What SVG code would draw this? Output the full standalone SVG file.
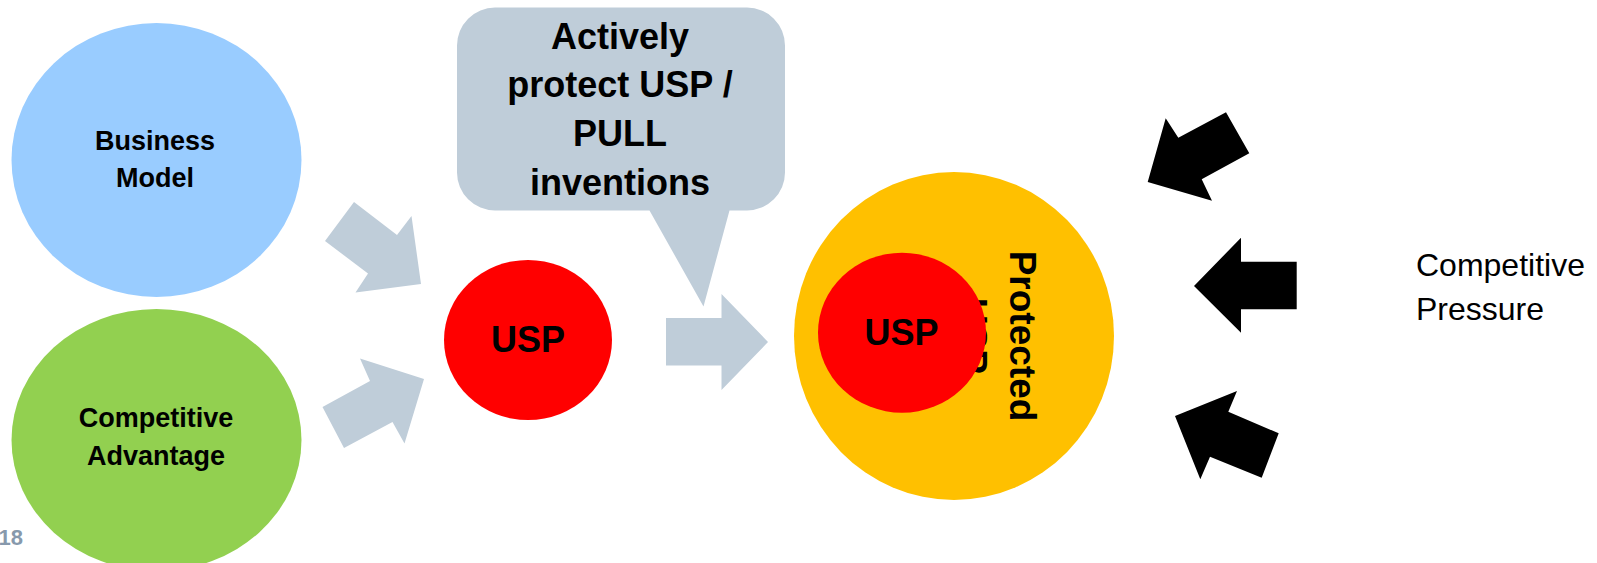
<svg xmlns="http://www.w3.org/2000/svg" width="1597" height="563" viewBox="0 0 1597 563">
  <style>
    .lbl { font-family: "Liberation Sans", Arial, sans-serif; font-weight: bold; fill: #000; text-anchor: middle; }
    .plain { font-family: "Liberation Sans", Arial, sans-serif; fill: #000; }
    .flow { fill: #bfcdd9; }
    .push { fill: #000; }
  </style>
  <rect width="1597" height="563" fill="#ffffff"/>

  <!-- page number in the bottom-left corner -->
  <text x="23" y="545" font-family="Liberation Sans, Arial, sans-serif" font-weight="bold" font-size="22" fill="#8799ac" text-anchor="end">18</text>

  <g id="business-model">
    <ellipse cx="156.5" cy="160" rx="145" ry="137" fill="#99ccff"/>
    <text class="lbl" font-size="27" x="155" y="150">Business</text>
    <text class="lbl" font-size="27" x="155" y="186.5">Model</text>
  </g>

  <g id="competitive-advantage">
    <ellipse cx="156.5" cy="440" rx="145" ry="131" fill="#92d050"/>
    <text class="lbl" font-size="27" x="156" y="427">Competitive</text>
    <text class="lbl" font-size="27" x="156" y="464.5">Advantage</text>
  </g>

  <g id="usp">
    <ellipse cx="528" cy="340" rx="84" ry="80" fill="#ff0000"/>
    <text class="lbl" font-size="36" x="528" y="352">USP</text>
  </g>

  <g id="callout">
    <path class="flow" d="M495,7.5 H747 A38,38 0 0 1 785,45.5 V172.5 A38,38 0 0 1 747,210.5 H729.5 L703.5,306.5 L649.5,210.5 H495 A38,38 0 0 1 457,172.5 V45.5 A38,38 0 0 1 495,7.5 Z"/>
    <text class="lbl" font-size="36" x="620" y="48.5">Actively</text>
    <text class="lbl" font-size="36" x="620" y="97">protect USP /</text>
    <text class="lbl" font-size="36" x="620" y="146">PULL</text>
    <text class="lbl" font-size="36" x="620" y="195">inventions</text>
  </g>

  <g id="protected-usp">
    <ellipse cx="954" cy="336" rx="160" ry="164" fill="#ffc000"/>
    <text class="lbl" font-size="37" transform="translate(1009.5,336) rotate(90)">Protected</text>
    <text class="lbl" font-size="37" transform="translate(961,336) rotate(90)">USP</text>
    <ellipse cx="902" cy="332.7" rx="84" ry="80" fill="#ff0000"/>
    <text class="lbl" font-size="36" x="901.5" y="345">USP</text>
  </g>

  <g id="competitive-pressure">
    <text class="plain" font-size="32" x="1416" y="276">Competitive</text>
    <text class="plain" font-size="32" x="1416" y="319.5">Pressure</text>
  </g>

  <g id="connectors">
    <!-- grey flow arrows into and out of the USP -->
    <polygon class="flow" points="325,241 354,202 397,235 411.5,216 421,284 355.5,292.5 368,273.5"/>
    <polygon class="flow" points="322.5,407 370,381 360,358.5 424,379 404.5,443.5 392.5,422 344,448"/>
    <polygon class="flow" points="666,318 721.5,318 721.5,294 768,342 721.5,390 721.5,365.5 666,365.5"/>
    <!-- black pressure arrows pushing on the protected USP -->
    <polygon class="push" points="1147.7,182 1165.7,118.3 1178.3,137.7 1226,112.3 1249.3,153.3 1201.7,179.3 1212,200.7"/>
    <polygon class="push" points="1194,286 1241,237.7 1241,261.7 1296.7,261.7 1296.7,309.3 1241,309.3 1241,332.7"/>
    <polygon class="push" points="1175,416 1237,391 1228.3,411.7 1278.7,433.3 1261.7,477.7 1210,456.7 1200.3,479.3"/>
  </g>
</svg>
